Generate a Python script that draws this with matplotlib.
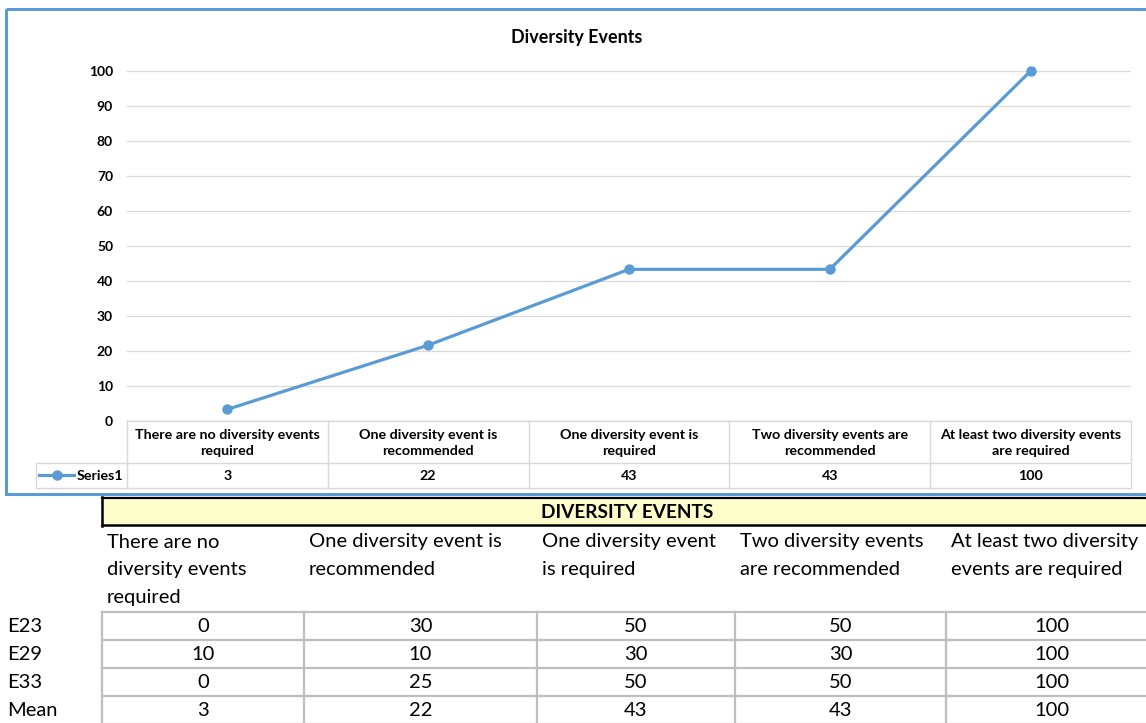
import matplotlib.pyplot as plt
from matplotlib.patches import Rectangle
import numpy as np

plt.rcParams['font.family'] = ['Lato', 'DejaVu Sans']

# data from the sheet
chart_labels = ["There are no diversity events\nrequired",
                "One diversity event is\nrecommended",
                "One diversity event is\nrequired",
                "Two diversity events are\nrecommended",
                "At least two diversity events\nare required"]
sheet_labels = ["There are no\ndiversity events\nrequired",
                "One diversity event is\nrecommended",
                "One diversity event\nis required",
                "Two diversity events\nare recommended",
                "At least two diversity\nevents are required"]
row_names = ["E23", "E29", "E33"]
e23 = [0, 30, 50, 50, 100]
e29 = [10, 10, 30, 30, 100]
e33 = [0, 25, 50, 50, 100]
mean = np.mean([e23, e29, e33], axis=0)
y_ticks = list(range(0, 101, 10))

W, H = 1146, 723
blue = '#5B9BD5'
grid_c = '#D9D9D9'
sheet_c = '#BFBFBF'

fig = plt.figure(figsize=(W / 100, H / 100), dpi=100)

# background axes in pixel coords for borders, tables and text
bg = fig.add_axes([0, 0, 1, 1])
bg.set_xlim(0, W)
bg.set_ylim(H, 0)
bg.axis('off')

# chart area border
bg.add_patch(Rectangle((6, 9), 1160, 485, fill=False, edgecolor=blue, lw=2.2))
bg.text(577, 37, "Diversity Events", ha='center', va='center',
        fontsize=12.9, fontweight='bold', color='black')

# plot axes
pl, pr, pt, pb = 127, 1131, 71, 421
ax = fig.add_axes([pl / W, (H - pb) / H, (pr - pl) / W, (pb - pt) / H])
x = np.arange(len(mean))
ax.plot(x, mean, color=blue, lw=2.3, marker='o', markersize=6.5, zorder=3, clip_on=False)
ax.set_xlim(-0.5, len(mean) - 0.5)
ax.set_ylim(0, 100)
ax.set_yticks(y_ticks)
ax.set_xticks([])
ax.tick_params(axis='y', length=0, pad=10, labelsize=10)
for lab in ax.get_yticklabels():
    lab.set_fontweight('bold')
ax.grid(axis='y', color=grid_c, lw=0.9)
for s in ax.spines.values():
    s.set_visible(False)
ax.patch.set_alpha(0)

# chart data table
col_w = (pr - pl) / len(mean)
t_top, t_mid, t_bot = 421, 463, 488
lc = '#D9D9D9'
bg.plot([pl, pr], [t_top, t_top], color=lc, lw=1)
bg.plot([36, pr], [t_mid, t_mid], color=lc, lw=1)
bg.plot([36, pr], [t_bot, t_bot], color=lc, lw=1)
bg.plot([36, 36], [t_mid, t_bot], color=lc, lw=1)
for i in range(len(mean) + 1):
    xx = pl + i * col_w
    bg.plot([xx, xx], [t_top, t_bot], color=lc, lw=1)
for i, (lab, v) in enumerate(zip(chart_labels, mean)):
    cx = pl + (i + 0.5) * col_w
    bg.text(cx, (t_top + t_mid) / 2 + 1, lab, ha='center', va='center',
            fontsize=10.3, fontweight='bold', linespacing=1.35)
    bg.text(cx, (t_mid + t_bot) / 2 + 1, f"{v:.0f}", ha='center', va='center',
            fontsize=10.3, fontweight='bold')
bg.plot([39, 74], [475, 475], color=blue, lw=2.3)
bg.plot([57], [475], marker='o', color=blue, markersize=6.5)
bg.text(77, 476, "Series1", ha='left', va='center', fontsize=10.3, fontweight='bold')

# sheet below the chart
bg.add_patch(Rectangle((102, 498), 1100, 27, facecolor='#FFFFCC', edgecolor='none'))
bg.plot([102, W], [498, 498], color='black', lw=1.6)
bg.plot([102, W], [525, 525], color='black', lw=1.8)
bg.plot([102, 102], [497, 526], color='black', lw=1.8)
bg.text(627, 512, "DIVERSITY EVENTS", ha='center', va='center',
        fontsize=13.7, fontweight='bold')

col_edges = [102, 304, 537, 735, 946, 1158]
for i, lab in enumerate(sheet_labels):
    for j, line in enumerate(lab.split('\n')):
        bg.text(col_edges[i] + 5, 542 + j * 27.5, line, ha='left', va='center', fontsize=14.5)

rows = [e23, e29, e33, list(mean)]
names = row_names + ["Mean"]
r_top, r_h = 612, 28
for k in range(len(rows) + 1):
    yy = r_top + k * r_h
    bg.plot([102, W], [yy, yy], color=sheet_c, lw=1.6)
for xx in col_edges:
    bg.plot([xx, xx], [r_top, H], color=sheet_c, lw=1.6)
for k, (nm, vals) in enumerate(zip(names, rows)):
    yc = r_top + k * r_h + 15
    bg.text(7, yc, nm, ha='left', va='center', fontsize=14.5)
    for i, v in enumerate(vals):
        cx = (col_edges[i] + col_edges[i + 1]) / 2
        bg.text(cx, yc, f"{v:.0f}", ha='center', va='center', fontsize=14.5)

fig.savefig("out.png", dpi=100)
